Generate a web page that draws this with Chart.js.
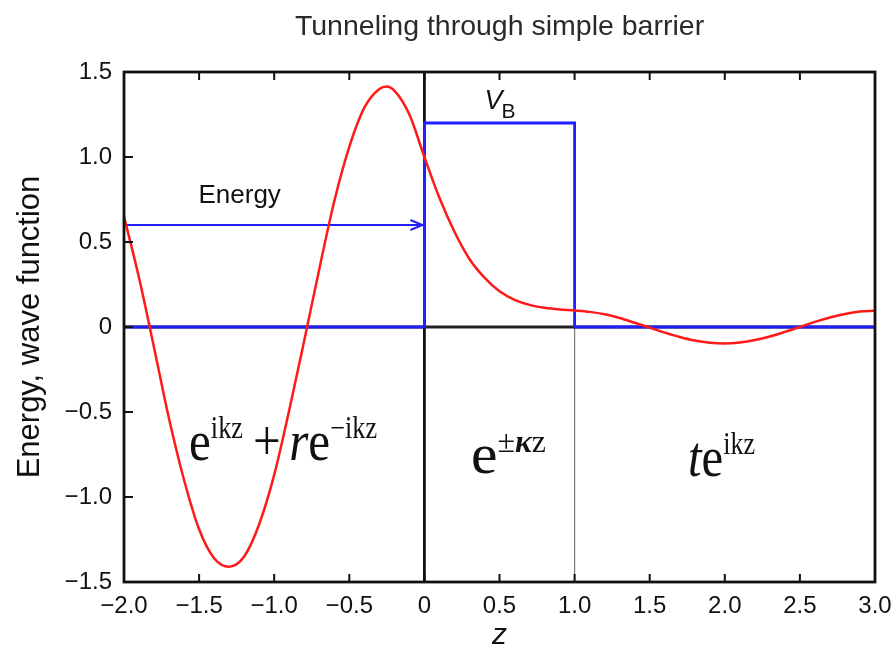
<!DOCTYPE html>
<html>
<head>
<meta charset="utf-8">
<script src="https://cdn.jsdelivr.net/npm/chart.js@4/dist/chart.umd.min.js"></script>
<style>
  html, body { margin: 0; padding: 0; background: #fff; }
</style>
</head>
<body>
<canvas id="chart" width="896" height="658"></canvas>
<script>
const zValues = [-2.0, -1.9, -1.8, -1.7, -1.6, -1.5, -1.4, -1.3, -1.2, -1.1, -1.0, -0.9, -0.8, -0.7, -0.6, -0.5, -0.4, -0.3, -0.25,
  -0.2, -0.1, 0.0, 0.1, 0.2, 0.3, 0.4, 0.5, 0.6, 0.7, 0.8, 0.9, 1.0,
  1.1, 1.2, 1.3, 1.4, 1.5, 1.6, 1.7, 1.8, 1.9, 2.0, 2.1, 2.2, 2.3, 2.4, 2.5, 2.6, 2.7, 2.8, 2.9, 3.0];
const psiValues = [0.65, 0.29, -0.12, -0.54, -0.90, -1.19, -1.36, -1.41, -1.35, -1.16, -0.87, -0.49, -0.08, 0.34, 0.74, 1.06, 1.29, 1.40, 1.415,
  1.39, 1.25, 1.0, 0.76, 0.56, 0.40, 0.29, 0.21, 0.16, 0.13, 0.113, 0.103, 0.097,
  0.089, 0.075, 0.053, 0.025, -0.004, -0.033, -0.059, -0.080, -0.093, -0.097, -0.091, -0.077, -0.056, -0.029, 0.0, 0.030, 0.056, 0.077, 0.091, 0.096];

// barrier potential
const potentialZ = [-2, 0, 0, 1, 1, 3];
const potentialV = [0, 0, 1.2, 1.2, 0, 0];

// energy level arrow
const energyZ = [-2, 0];
const energyLevel = 0.6;

// axis lines
const zeroLineZ = [-2, 3];
const barrierEdgeZ = [0, 1];

const xTickValues = [-2, -1.5, -1, -0.5, 0, 0.5, 1, 1.5, 2, 2.5, 3];
const xTickLabels = ['\u22122.0', '\u22121.5', '\u22121.0', '\u22120.5', '0', '0.5', '1.0', '1.5', '2.0', '2.5', '3.0'];
const yTickValues = [-1.5, -1, -0.5, 0, 0.5, 1, 1.5];
const yTickLabels = ['\u22121.5', '\u22121.0', '\u22120.5', '0', '0.5', '1.0', '1.5'];

const SANS = '"Liberation Sans", Arial, sans-serif';
const SERIF = '"Liberation Serif", "Times New Roman", serif';
const RED = '#ff1a1a';
const BLUE = '#1f1fff';

function pairs(xs, ys) {
  return xs.map((x, i) => ({ x: x, y: ys[i] }));
}

// draws a run of text pieces, squeezed to a given width
function drawRich(ctx, x, y, parts, width) {
  let total = 0;
  parts.forEach(p => {
    ctx.font = p.f;
    p.w = ctx.measureText(p.t).width;
    total += p.w + (p.gap || 0);
  });
  ctx.save();
  ctx.translate(x, y);
  ctx.scale(width / total, 1);
  ctx.fillStyle = '#111';
  ctx.textAlign = 'left';
  ctx.textBaseline = 'alphabetic';
  let cx = 0;
  parts.forEach(p => {
    cx += (p.gapL || 0);
    ctx.font = p.f;
    ctx.fillText(p.t, cx, p.dy || 0);
    cx += p.w + (p.gap || 0) - (p.gapL || 0);
  });
  ctx.restore();
}

const decorations = {
  id: 'decorations',
  afterDatasetsDraw(chart) {
    const ctx = chart.ctx;
    const xs = chart.scales.x, ys = chart.scales.y;

    // arrow head on the energy line
    const tx = xs.getPixelForValue(energyZ[1]) - 2, ty = ys.getPixelForValue(energyLevel);
    ctx.save();
    ctx.strokeStyle = BLUE;
    ctx.lineWidth = 2;
    ctx.beginPath();
    ctx.moveTo(tx - 12, ty - 5);
    ctx.lineTo(tx, ty);
    ctx.lineTo(tx - 12, ty + 5);
    ctx.moveTo(tx - 8, ty);
    ctx.lineTo(tx, ty);
    ctx.stroke();
    ctx.restore();
  },
  afterDraw(chart) {
    const ctx = chart.ctx;
    const a = chart.chartArea;
    const xs = chart.scales.x, ys = chart.scales.y;

    ctx.save();
    // frame
    ctx.strokeStyle = '#111';
    ctx.lineWidth = 2.8;
    ctx.strokeRect(a.left, a.top, a.right - a.left, a.bottom - a.top);

    // inward ticks
    ctx.lineWidth = 2;
    ctx.beginPath();
    xTickValues.slice(1, -1).forEach(v => {
      const px = xs.getPixelForValue(v);
      ctx.moveTo(px, a.bottom); ctx.lineTo(px, a.bottom - 8);
      ctx.moveTo(px, a.top); ctx.lineTo(px, a.top + 8);
    });
    yTickValues.slice(1, -1).forEach(v => {
      const py = ys.getPixelForValue(v);
      ctx.moveTo(a.left, py); ctx.lineTo(a.left + 9, py);
    });
    ctx.stroke();

    // title
    ctx.fillStyle = '#2a2a2a';
    ctx.font = '28.5px ' + SANS;
    ctx.textAlign = 'center';
    ctx.textBaseline = 'middle';
    ctx.fillText('Tunneling through simple barrier', (a.left + a.right) / 2, 27);

    // "Energy" label
    ctx.fillStyle = '#111';
    ctx.font = '26px ' + SANS;
    ctx.fillText('Energy', xs.getPixelForValue(-1.23), ys.getPixelForValue(0.77));

    // V_B
    ctx.textAlign = 'left';
    ctx.textBaseline = 'alphabetic';
    const vx = xs.getPixelForValue(0.4), vy = ys.getPixelForValue(1.285);
    ctx.font = 'italic 27px ' + SANS;
    ctx.fillText('V', vx, vy);
    const vw = ctx.measureText('V').width;
    ctx.font = '21px ' + SANS;
    ctx.fillText('B', vx + vw - 1, vy + 9);
    ctx.restore();

    const big = '58px ' + SERIF, bigI = 'italic 58px ' + SERIF;
    const supU = '31px ' + SERIF, supB = 'italic bold 31px ' + SERIF;

    drawRich(ctx, xs.getPixelForValue(-1.567), ys.getPixelForValue(-0.782), [
      { t: 'e', f: big },
      { t: 'ikz', f: supU, dy: -22 },
      { t: '+', f: big, gapL: 12, gap: 22 },
      { t: 'r', f: bigI },
      { t: 'e', f: big },
      { t: '\u2212ikz', f: supU, dy: -22 }
    ], 188);

    drawRich(ctx, xs.getPixelForValue(0.31), ys.getPixelForValue(-0.859), [
      { t: 'e', f: big },
      { t: '\u00b1', f: supU, dy: -21 },
      { t: '\u03ba', f: supB, dy: -21 },
      { t: 'z', f: supU, dy: -21 }
    ], 75);

    drawRich(ctx, xs.getPixelForValue(1.755), ys.getPixelForValue(-0.876), [
      { t: 't', f: bigI },
      { t: 'e', f: big },
      { t: 'ikz', f: supU, dy: -22 }
    ], 67);
  }
};

new Chart(document.getElementById('chart'), {
  type: 'line',
  data: {
    // first dataset is drawn on top
    datasets: [
      {
        data: pairs(zValues, psiValues),
        borderColor: RED, borderWidth: 2.5, pointRadius: 0,
        cubicInterpolationMode: 'monotone'
      },
      {
        data: pairs(potentialZ, potentialV),
        borderColor: BLUE, borderWidth: 2.8, pointRadius: 0, tension: 0
      },
      {
        data: pairs(energyZ, [energyLevel, energyLevel]),
        borderColor: BLUE, borderWidth: 2, pointRadius: 0
      },
      {
        data: pairs([barrierEdgeZ[0], barrierEdgeZ[0]], [-1.5, 1.5]),
        borderColor: '#111', borderWidth: 2.8, pointRadius: 0
      },
      {
        data: pairs([barrierEdgeZ[1], barrierEdgeZ[1]], [-1.5, 0]),
        borderColor: '#777', borderWidth: 1.2, pointRadius: 0
      },
      {
        data: pairs(zeroLineZ, [0, 0]),
        borderColor: '#222', borderWidth: 2.8, pointRadius: 0
      }
    ]
  },
  options: {
    responsive: false,
    animation: false,
    devicePixelRatio: 1,
    layout: { padding: { top: 72, right: 21, left: 0, bottom: 0 } },
    plugins: {
      legend: { display: false },
      tooltip: { enabled: false }
    },
    scales: {
      x: {
        type: 'linear',
        min: -2, max: 3,
        afterFit(s) { s.height = 76; s.paddingLeft = 0; s.paddingRight = 0; },
        afterBuildTicks(s) { s.ticks = xTickValues.map(v => ({ value: v })); },
        grid: { display: false, drawTicks: false },
        border: { display: false },
        ticks: {
          padding: 10,
          color: '#111',
          font: { family: SANS, size: 24 },
          callback: (v) => xTickLabels[xTickValues.indexOf(v)]
        },
        title: {
          display: true, text: 'z', color: '#111',
          font: { family: SANS, size: 30, style: 'italic' },
          padding: { top: 0, bottom: 4 }
        }
      },
      y: {
        type: 'linear',
        min: -1.5, max: 1.5,
        afterFit(s) { s.width = 124; s.paddingTop = 0; s.paddingBottom = 0; },
        afterBuildTicks(s) { s.ticks = yTickValues.map(v => ({ value: v })); },
        grid: { display: false, drawTicks: false },
        border: { display: false },
        ticks: {
          padding: 12,
          color: '#111',
          font: { family: SANS, size: 24 },
          callback: (v) => yTickLabels[yTickValues.indexOf(v)]
        },
        title: {
          display: true, text: 'Energy, wave function', color: '#111',
          font: { family: SANS, size: 31 },
          padding: { top: 12, bottom: 0 }
        }
      }
    }
  },
  plugins: [decorations]
});
</script>
</body>
</html>
